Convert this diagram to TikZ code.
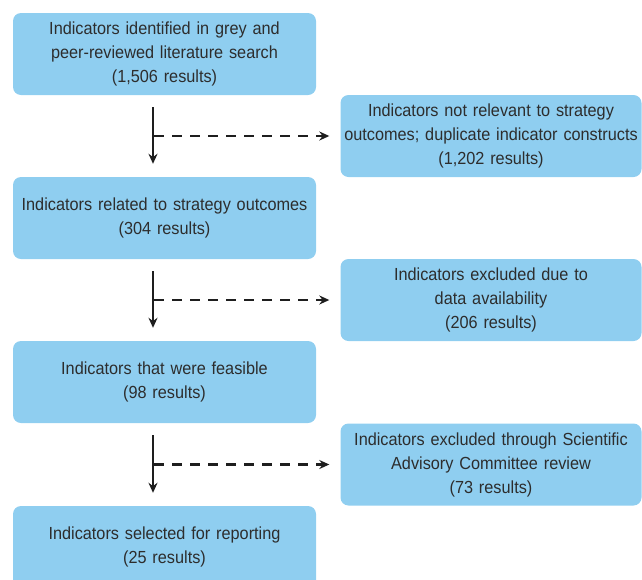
\documentclass[tikz,border=0pt]{standalone}
\usepackage{fontspec}
\setmainfont{Liberation Sans}[FakeStretch=0.93]
\usetikzlibrary{arrows.meta}
\definecolor{boxblue}{RGB}{143,206,240}
\definecolor{txt}{RGB}{45,45,45}
\definecolor{arr}{RGB}{30,30,30}
\tikzset{
  flowbox/.style={fill=boxblue, draw=none, rounded corners=8pt, minimum height=82pt,
    align=center, text=txt, inner sep=0pt,
    font=\fontsize{17.5pt}{24pt}\selectfont},
  leftbox/.style={flowbox, minimum width=303pt, text width=290pt},
  rightbox/.style={flowbox, minimum width=301pt, text width=295pt},
  solidarrow/.style={draw=arr, line width=2.2pt, -{Stealth[length=10pt,width=9pt]}},
  dasharrow/.style={draw=arr, line width=2.2pt, dash pattern=on 10pt off 8pt, -{Stealth[length=10pt,width=9pt]}}
}
\begin{document}
\begin{tikzpicture}[x=1pt,y=-1pt]
\useasboundingbox (0,0) rectangle (642,579);
\clip (0,0) rectangle (642,579);
\node[leftbox] (b1) at (164.5,54) {Indicators identified in grey and\\peer-reviewed literature search\\(1,506 results)};
\node[leftbox] (b2) at (164.5,218) {Indicators related to strategy outcomes\\(304 results)};
\node[leftbox] (b3) at (164.5,382) {Indicators that were feasible\\(98 results)};
\node[leftbox] (b4) at (164.5,547) {Indicators selected for reporting\\(25 results)};
\node[rightbox] (r1) at (491,136) {Indicators not relevant to strategy\\outcomes; duplicate indicator constructs\\(1,202 results)};
\node[rightbox] (r2) at (491,300) {Indicators excluded due to\\data availability\\(206 results)};
\node[rightbox] (r3) at (491,464.5) {Indicators excluded through Scientific\\Advisory Committee review\\(73 results)};
\coordinate (m1) at (153,136);
\coordinate (m2) at (153,300);
\coordinate (m3) at (153,464.5);
\draw[solidarrow] ([xshift=-11.5pt,yshift=-12pt]b1.south) -- ([xshift=-11.5pt,yshift=13pt]b2.north);
\draw[solidarrow] ([xshift=-11.5pt,yshift=-12pt]b2.south) -- ([xshift=-11.5pt,yshift=13pt]b3.north);
\draw[solidarrow] ([xshift=-11.5pt,yshift=-12pt]b3.south) -- ([xshift=-11.5pt,yshift=13pt]b4.north);
\draw[dasharrow] ([xshift=1pt]m1) -- ([xshift=-11pt]r1.west);
\draw[dasharrow] ([xshift=1pt]m2) -- ([xshift=-11pt]r2.west);
\draw[dasharrow] ([xshift=1pt]m3) -- ([xshift=-11pt]r3.west);
\end{tikzpicture}
\end{document}
